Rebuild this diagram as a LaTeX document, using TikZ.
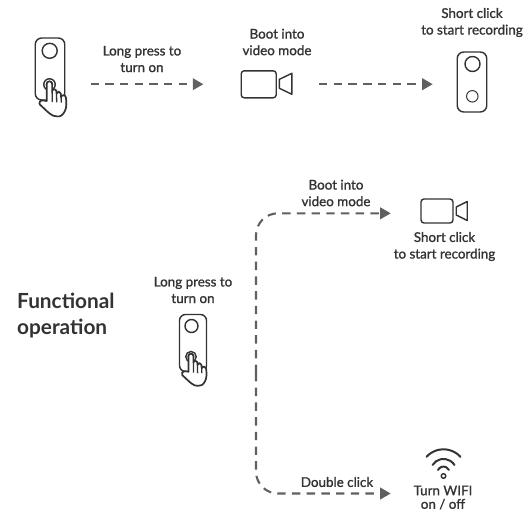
\documentclass[tikz,border=0pt]{standalone}
\usepackage{fontspec}
\setmainfont{Lato}
\newfontfamily\labfont[FakeBold=1.2]{Lato}
\usetikzlibrary{arrows.meta}
\definecolor{ink}{HTML}{333333}
\definecolor{arrowgrey}{HTML}{606060}
\tikzset{
  lab/.style={align=center,font=\labfont\fontsize{13.4}{16.6}\selectfont,text=ink,inner sep=0pt},
  caselab/.style={align=left,anchor=west,font=\bfseries\fontsize{20.8}{26}\selectfont,text=ink,inner sep=0pt},
  icon/.style={draw=ink,line width=1.4pt,fill=white,inner sep=0pt},
  dev/.style={icon,rounded corners=6.5pt,minimum width=#1},
  flow/.style={draw=arrowgrey,line width=2.1pt,dash pattern=on 8.4pt off 6.3pt,-{Triangle[length=10.5pt,width=11.5pt]}},
  flowr/.style={flow,rounded corners=22pt},
  hand/.pic={
    \path[draw=ink,line width=1.7pt,fill=white,line join=round]
      (-2.8,16) -- (-2.8,-1) arc[start angle=-180,end angle=0,radius=2.7] -- (2.6,5.5)
      .. controls (3,3.6) and (6.4,3.6) .. (6.8,5.5) -- (7,8.5)
      .. controls (7.6,6) and (10.8,6) .. (11.3,8.5) -- (11.6,12)
      .. controls (12,9.6) and (16,9.6) .. (16.4,12.5)
      .. controls (17.2,18) and (17,23) .. (15.4,26)
      .. controls (13.6,30) and (10.6,32) .. (7.6,31.4)
      .. controls (2,31.6) and (-1,27.4) .. (-9.6,19.6)
      .. controls (-11,18) and (-9,14.6) .. (-6.6,15.4) -- cycle;
    \draw[ink,line width=1.3pt] (2.6,5.5) -- (2.8,17) (7,8.5) -- (7.2,17.4) (11.6,12) -- (11.8,17.6);
  }
}
\begin{document}
\begin{tikzpicture}[x=1pt,y=-1pt]
\useasboundingbox (0,0) rectangle (525,512);

% top row
\node[dev=29.5pt,minimum height=62pt] (devA) at (50,69) {};
\node[icon,circle,minimum size=15pt] (lensA) at (49.7,50.8) {};
\node[icon,circle,minimum size=11.5pt] (btnA) at (49.5,84.5) {};
\node[icon,circle,minimum size=6pt] (dotA) at (49.5,84.5) {};
\pic at (49.5,85) {hand};
\node[lab] (txtA) at (142,59) {Long press to\\turn on};
\coordinate (a1) at (90.5,84.2);
\coordinate (a2) at (203.3,84.2);
\draw[flow] (a1) -- (a2);
\node[lab] (txtB) at (277,42) {Boot into\\video mode};
\node[icon,rounded corners=3pt,minimum width=35pt,minimum height=27pt] (camA) at (258.7,84.3) {};
\path[draw=ink,line width=1.4pt,line join=round] (camA.east) ++(2.5,-5) -- ++(12.5,-6) -- ++(0,21) -- ++(-12.5,-6) -- cycle;
\coordinate (b1) at (319,84.2);
\coordinate (b2) at (432.7,84.2);
\draw[flow] (b1) -- (b2);
\node[lab] (txtC) at (472,22.5) {Short click\\to start recording};
\node[dev=29.5pt,minimum height=60pt] (devB) at (472,82) {};
\node[icon,circle,minimum size=15pt] (lensB) at (472.5,64) {};
\node[icon,circle,minimum size=11.5pt,line width=1pt] (btnB) at (472.3,96.3) {};

% lower part
\node[caselab] (txtD) at (17,315.5) {Functional\\operation};
\node[lab] (txtE) at (193,290) {Long press to\\turn on};
\node[dev=27pt,minimum height=57pt,rounded corners=6pt] (devC) at (193,343) {};
\node[icon,circle,minimum size=13pt] (lensC) at (191.5,326) {};
\node[icon,circle,minimum size=10.5pt] (btnC) at (191,356.7) {};
\node[icon,circle,minimum size=5.5pt] (dotC) at (191,356.7) {};
\pic[scale=0.92,transform shape] at (191,357) {hand};

\coordinate (bend) at (256,373);
\coordinate (c1) at (390.7,213.3);
\coordinate (c2) at (390.7,493.5);
\draw[flowr] (bend) -- (256,213.3) -- (c1);
\draw[flowr] (bend) -- (256,493.5) -- (c2);

\node[lab] (txtF) at (336,193) {Boot into\\video mode};
\node[icon,rounded corners=3pt,minimum width=32pt,minimum height=24pt] (camB) at (437,211) {};
\path[draw=ink,line width=1.4pt,line join=round] (camB.east) ++(2.5,-4) -- ++(11,-5.5) -- ++(0,19) -- ++(-11,-5.5) -- cycle;
\node[lab] (txtG) at (444.5,246.5) {Short click\\to start recording};
\node[lab] (txtH) at (337,482) {Double click};
\coordinate (wifi) at (443.5,476);
\draw[ink,line width=2pt,line cap=round]
  (wifi) ++(-17,-19.2) arc[start angle=-137.6,end angle=-42.4,radius=23];
\draw[ink,line width=2pt,line cap=round]
  (wifi) ++(-11,-11) arc[start angle=-147.8,end angle=-32.2,radius=13];
\draw[ink,line width=2pt,line cap=round]
  (wifi) ++(-5.5,-6) arc[start angle=-154,end angle=-26,radius=6.1];
\draw[ink,line width=1.4pt,fill=white] (wifi) circle[radius=2.3];
\node[lab,font=\labfont\fontsize{13.4}{13.6}\selectfont] (txtI) at (443,497.5) {Turn WIFI\\on / off};
\end{tikzpicture}
\end{document}
